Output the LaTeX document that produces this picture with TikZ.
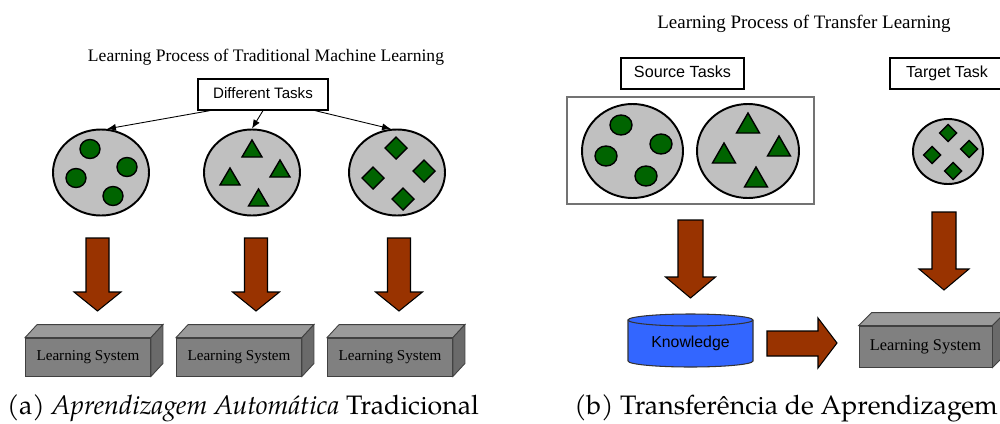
\documentclass[tikz,border=0pt]{standalone}
\usepackage{fontspec}
\usetikzlibrary{arrows.meta,calc,shapes.geometric}
\newfontfamily\serifA{Liberation Serif}
\newfontfamily\sansA{Liberation Sans}
\newfontfamily\capfont{texgyrepagella}[Extension=.otf,UprightFont=*-regular,ItalicFont=*-italic]
\newcommand\pxl{0.02cm}
\definecolor{setgray}{HTML}{C0C0C0}
\definecolor{dgreen}{RGB}{0,100,0}
\definecolor{rust}{HTML}{993300}
\definecolor{boxfront}{HTML}{808080}
\definecolor{boxtop}{HTML}{9A9A9A}
\definecolor{boxside}{HTML}{6A6A6A}
\definecolor{kblue}{HTML}{3366FF}
% faces of a 3D box around a front-face node: #1 node, (#2,#3) depth offset
\newcommand\boxfaces[3]{%
  \filldraw[boxface, fill=boxtop] (#1.north west) -- ++(#2,#3) -- ($(#1.north east)+(#2,#3)$) -- (#1.north east) -- cycle;
  \filldraw[boxface, fill=boxside] (#1.north east) -- ++(#2,#3) -- ($(#1.south east)+(#2,#3)$) -- (#1.south east) -- cycle;
}
% block arrow pointing down: #1 x, #2 top y, #3 shaft half width, #4 head half width, #5 shaft length, #6 total length
\newcommand\fatdown[6]{%
  \filldraw[fat] (#1-#3,#2) -- (#1+#3,#2) -- (#1+#3,#2+#5) -- (#1+#4,#2+#5) -- (#1,#2+#6)
    -- (#1-#4,#2+#5) -- (#1-#3,#2+#5) -- cycle;
}
\begin{document}
\begin{tikzpicture}[x=0.02cm,y=-0.02cm,
  title/.style={font=\serifA\fontsize{10}{12}\selectfont, anchor=base},
  taskbox/.style={draw, line width=0.7pt, fill=white, inner sep=0pt, text height=0.72em, text depth=0.21em,
    font=\sansA\fontsize{#1}{11}\selectfont},
  dataset/.style={ellipse, draw, line width=1.1pt, fill=setgray, inner sep=0pt},
  dot/.style={fill=dgreen, draw=black, line width=0.8pt, line join=miter},
  fat/.style={fill=rust, draw=black, line width=0.6pt, line join=miter},
  boxface/.style={draw=black!75, line width=0.5pt, line join=miter},
  lsfront/.style={rectangle, draw=black!75, fill=boxfront, line width=0.5pt, inner sep=0pt,
    font=\serifA\fontsize{#1}{11}\selectfont},
  thin arrow/.style={-{Latex[length=5pt,width=4pt]}, line width=0.5pt},
  caption/.style={anchor=base, font=\capfont\fontsize{15.2}{18}\selectfont},
  pics/tri/.style 2 args={code={\filldraw[dot] (-#1,#2/2) -- (#1,#2/2) -- (0,-#2/2) -- cycle;}},
  pics/dia/.style={code={\filldraw[dot] (-#1,0) -- (0,-#1) -- (#1,0) -- (0,#1) -- cycle;}},
]
\useasboundingbox (0,0) rectangle (1000,423);

% ---------------- (a) traditional machine learning ----------------
\node[title] (ta) at (266,61) {Learning Process of Traditional Machine Learning};
\node[taskbox=8.6, minimum width=130*\pxl, minimum height=31*\pxl] (dt) at (263,94.5) {Different Tasks};

\node[dataset, minimum width=96*\pxl, minimum height=86*\pxl] (e1) at (101,172.5) {};
\node[dataset, minimum width=96*\pxl, minimum height=86*\pxl] (e2) at (252,172.5) {};
\node[dataset, minimum width=96*\pxl, minimum height=86*\pxl] (e3) at (397,172.5) {};

\draw[thin arrow] ($(dt.south)+(-53,0)$) -- (e1.82);
\draw[thin arrow] (dt.south) -- (e2.north);
\draw[thin arrow] ($(dt.south)+(52,0)$) -- (e3.98);

% circles
\foreach \p in {(90,149),(127,167),(76,178),(113,196)}
  \filldraw[dot] \p ellipse[x radius=10, y radius=9.5];
% triangles
\pic at (252,148.5) {tri={10}{17}};
\pic at (230,176.5) {tri={10}{17}};
\pic at (280,168.5) {tri={10}{17}};
\pic at (258.5,197.5) {tri={10}{17}};
% diamonds
\pic at (396,148) {dia=11};
\pic at (424,171) {dia=11};
\pic at (373,178) {dia=11};
\pic at (403,199) {dia=11};

\fatdown{97.5}{238}{11.5}{23.5}{54}{73}
\fatdown{256}{238}{11.5}{23.5}{54}{73}
\fatdown{399}{238}{11.5}{23.5}{54}{73}

\node[lsfront=8.6, minimum width=125*\pxl, minimum height=38*\pxl] (ls1) at (88,357) {Learning System};
\node[lsfront=8.6, minimum width=125*\pxl, minimum height=38*\pxl] (ls2) at (239,357) {Learning System};
\node[lsfront=8.6, minimum width=125*\pxl, minimum height=38*\pxl] (ls3) at (390,357) {Learning System};
\boxfaces{ls1}{12}{-13}
\boxfaces{ls2}{12}{-13}
\boxfaces{ls3}{12}{-13}

\node[caption] (capa) at (243,414) {(a)\ \textit{Aprendizagem Automática} Tradicional};

% ---------------- (b) transfer learning ----------------
\node[title, font=\serifA\fontsize{10.8}{12}\selectfont] (tb) at (804,28) {Learning Process of Transfer Learning};
\node[taskbox=9.2, minimum width=123*\pxl, minimum height=31*\pxl] (src) at (682.5,73.5) {Source Tasks};
\node[taskbox=9.1, minimum width=114*\pxl, minimum height=31*\pxl] (tgt) at (947,73.5) {Target Task};

\node[draw=black!55, line width=0.6pt, minimum width=247*\pxl, minimum height=107*\pxl, inner sep=0pt] (pool) at (690.5,150.5) {};
\node[dataset, minimum width=101*\pxl, minimum height=94*\pxl] (s1) at (632.5,151) {};
\node[dataset, minimum width=102*\pxl, minimum height=94*\pxl] (s2) at (748,151) {};
\node[dataset, minimum width=70*\pxl, minimum height=65*\pxl] (t1) at (948,151.5) {};

\foreach \p in {(621,125),(661,144),(606,156),(646,176)}
  \filldraw[dot] \p ellipse[x radius=11, y radius=10];
\pic at (748,123) {tri={11.5}{20}};
\pic at (724,153) {tri={11.5}{20}};
\pic at (779,146) {tri={11.5}{20}};
\pic at (756,177) {tri={11.5}{20}};
\pic at (948,133) {dia=8.5};
\pic at (969,149) {dia=8.5};
\pic at (932,155) {dia=8.5};
\pic at (953,171) {dia=8.5};

\fatdown{690.5}{220}{12.5}{25}{57}{78}
\fatdown{944}{212}{12}{25}{57}{78}

% knowledge store
\filldraw[fill=kblue, draw=black!80, line width=0.6pt]
  (628,320) -- (628,361) arc[start angle=180, end angle=0, x radius=62.5, y radius=6]
  -- (753,320) arc[start angle=0, end angle=-180, x radius=62.5, y radius=6] -- cycle;
\draw[draw=black!80, line width=0.6pt] (628,320) arc[start angle=180, end angle=0, x radius=62.5, y radius=6];
\node[font=\sansA\fontsize{9}{11}\selectfont] (kn) at (690.5,343) {Knowledge};

\filldraw[fat] (767,331) -- (818,331) -- (818,318) -- (837,343) -- (818,368) -- (818,356) -- (767,356) -- cycle;

\node[lsfront=9.3, minimum width=133*\pxl, minimum height=41*\pxl] (ls4) at (925.5,346.5) {Learning System};
\boxfaces{ls4}{13}{-13}

\node[caption] (capb) at (786,414) {(b)\ Transferência de Aprendizagem};
\end{tikzpicture}
\end{document}
